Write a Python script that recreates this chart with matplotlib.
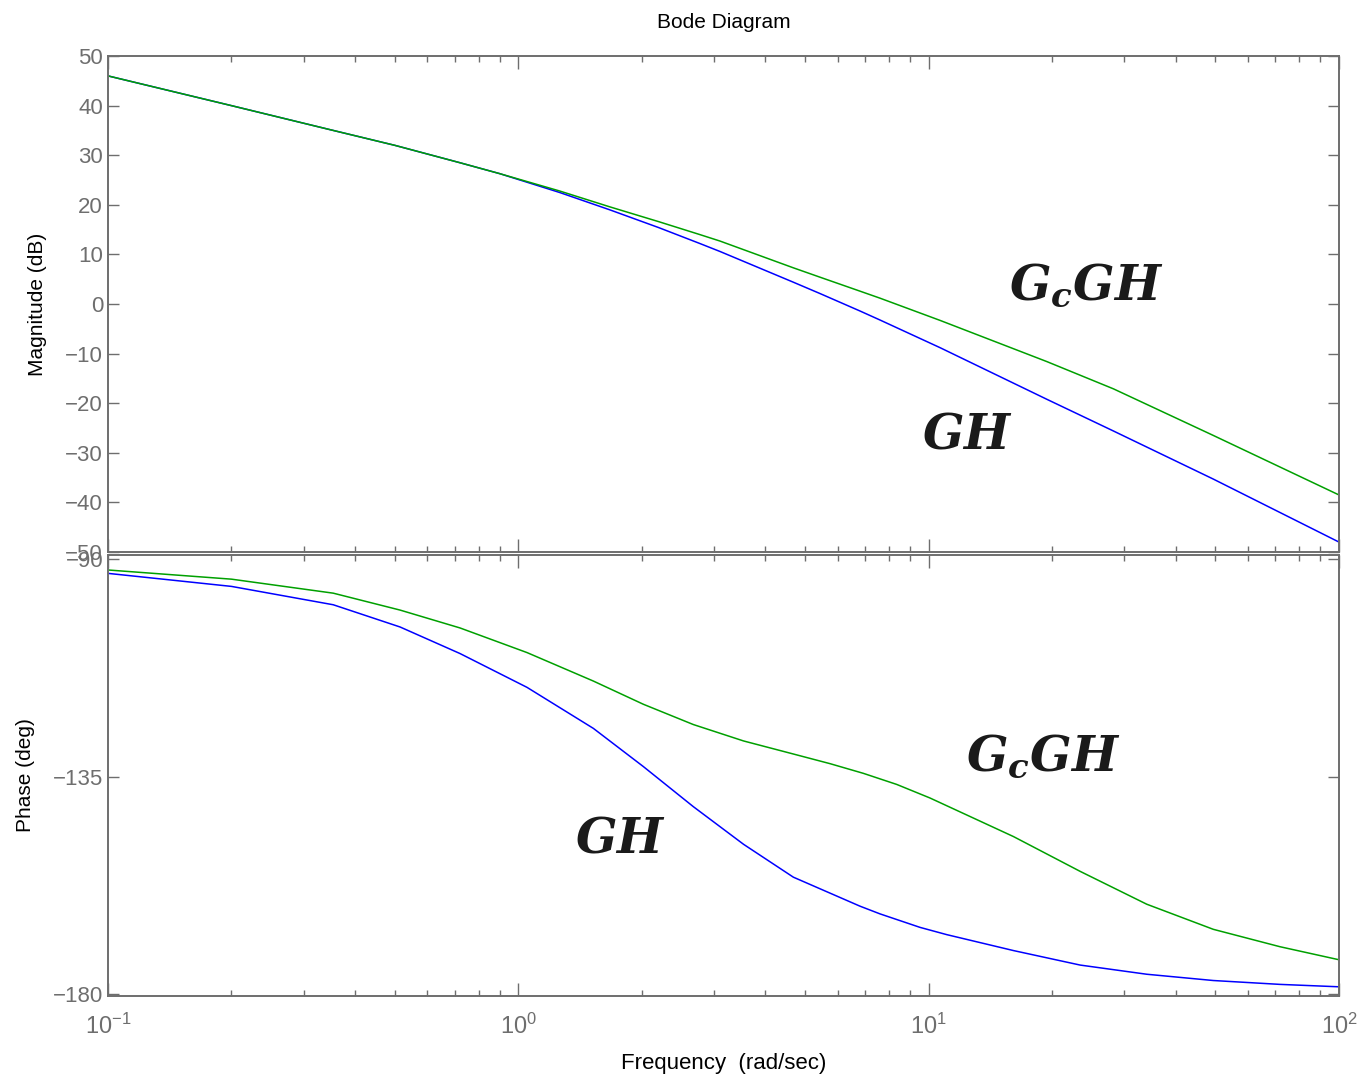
import matplotlib
matplotlib.use("Agg")
import matplotlib.pyplot as plt
from matplotlib.ticker import LogLocator, NullFormatter

# magnitude response, uncompensated GH and compensated GcGH
mag_freq = [0.1, 0.2, 0.35, 0.5, 0.72, 0.9, 1.26, 1.67, 2.2, 2.77, 3.1,
            4.68, 5.44, 6.8, 7.6, 10.66, 19.4, 28.2, 49.4, 100]
mag_gh = [46.0, 40.0, 35.1, 32.0, 28.5, 26.3, 22.5, 19.0, 15.4, 12.2, 10.6,
          4.4, 2.1, -1.4, -3.2, -8.8, -19.2, -25.6, -35.3, -48.0]
mag_gcgh = [46.0, 40.0, 35.1, 32.0, 28.5, 26.3, 22.8, 19.6, 16.6, 14.0, 12.7,
            7.3, 5.4, 2.6, 1.2, -3.3, -11.6, -17.1, -26.5, -38.5]

# phase response
ph_freq_gh = [0.1, 0.2, 0.354, 0.515, 0.721, 1.05, 1.524, 2.017, 2.67, 3.54,
              4.68, 6.8, 7.61, 9.53, 11.07, 16.1, 23.4, 34.0, 49.4, 71.8, 100]
ph_gh = [-92.9, -95.6, -99.4, -104.0, -109.5, -116.5, -125.0, -132.9, -141.2,
         -149.0, -155.8, -161.8, -163.4, -166.2, -167.7, -171.0, -174.0,
         -175.9, -177.2, -178.0, -178.5]
ph_freq_gcgh = [0.1, 0.2, 0.354, 0.515, 0.721, 1.05, 1.524, 2.017, 2.67, 3.54,
                4.68, 5.75, 6.93, 8.36, 10.07, 12.15, 16.1, 23.4, 34.0, 49.4,
                71.8, 100]
ph_gcgh = [-92.2, -94.1, -97.0, -100.5, -104.2, -109.3, -115.2, -120.0,
           -124.2, -127.6, -130.3, -132.3, -134.3, -136.6, -139.4, -142.6,
           -147.4, -154.6, -161.4, -166.6, -170.2, -172.9]

mag_ticks = [50, 40, 30, 20, 10, 0, -10, -20, -30, -40, -50]
ph_ticks = [-90, -135, -180]

plt.rcParams['font.family'] = ['Liberation Sans', 'DejaVu Sans']
plt.rcParams['mathtext.fontset'] = 'custom'
plt.rcParams['mathtext.it'] = 'DejaVu Serif:italic:bold'
plt.rcParams['mathtext.rm'] = 'Liberation Sans'

GRAY = '#6e6e6e'
BLUE = '#0000ff'
GREEN = '#00a000'

fig = plt.figure(figsize=(13.58, 10.8), dpi=100)
ax1 = fig.add_axes([0.0795, 0.4889, 0.9065, 0.4592])
ax2 = fig.add_axes([0.0795, 0.0778, 0.9065, 0.4083])

ax1.semilogx(mag_freq, mag_gh, color=BLUE, lw=1.1)
ax1.semilogx(mag_freq, mag_gcgh, color=GREEN, lw=1.1)
ax2.semilogx(ph_freq_gh, ph_gh, color=BLUE, lw=1.1)
ax2.semilogx(ph_freq_gcgh, ph_gcgh, color=GREEN, lw=1.1)

ax1.set_ylim(-50, 50)
ax1.set_yticks(mag_ticks)
ax2.set_ylim(-180.4, -89.1)
ax2.set_yticks(ph_ticks)

for ax in (ax1, ax2):
    ax.set_xlim(0.1, 100)
    ax.xaxis.set_major_locator(LogLocator(base=10))
    ax.xaxis.set_minor_locator(LogLocator(base=10, subs=range(2, 10)))
    ax.xaxis.set_minor_formatter(NullFormatter())
    for s in ax.spines.values():
        s.set_color(GRAY)
        s.set_linewidth(1.4)
    ax.tick_params(which='both', direction='in', top=True, right=True,
                   color=GRAY, width=1.0, labelcolor=GRAY, labelsize=16)
    ax.tick_params(axis='x', which='major', length=9.5)
    ax.tick_params(axis='y', which='major', length=8)
    ax.tick_params(which='minor', length=4.3)

ax1.tick_params(labelbottom=False)
ax2.tick_params(axis='x', pad=13, labelsize=17)

ax1.set_ylabel('Magnitude (dB)', fontsize=15, labelpad=13)
ax2.set_ylabel('Phase (deg)', fontsize=15, labelpad=13)
ax2.set_xlabel('Frequency  (rad/sec)', fontsize=16, labelpad=10)
ax1.set_title('Bode Diagram', fontsize=15, pad=20)

ax1.text(24.2, 3.8, r'$G_cGH$', fontsize=35, ha='center', va='center', color='#1a1a1a')
ax1.text(12.4, -26.6, r'$GH$', fontsize=35, ha='center', va='center', color='#1a1a1a')
ax2.text(19.0, -130.9, r'$G_cGH$', fontsize=35, ha='center', va='center', color='#1a1a1a')
ax2.text(1.77, -148.1, r'$GH$', fontsize=35, ha='center', va='center', color='#1a1a1a')

fig.savefig('out.png', dpi=100)
